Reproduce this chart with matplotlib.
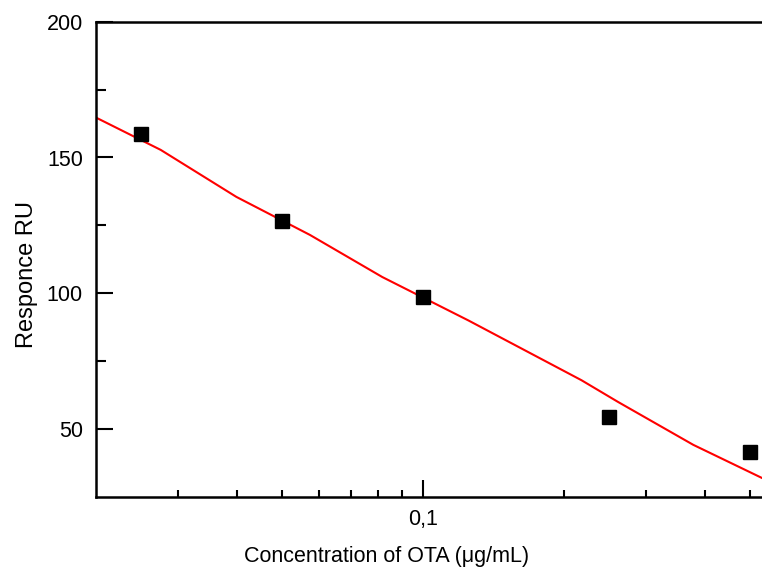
import numpy as np
import matplotlib
matplotlib.use("Agg")
import matplotlib.pyplot as plt
from matplotlib.ticker import FixedLocator, NullFormatter

plt.rcParams['font.family'] = ['Liberation Sans', 'DejaVu Sans']

# measured points
conc = [0.025, 0.05, 0.1, 0.25, 0.5]
resp = [158.7, 126.6, 98.8, 54.5, 41.5]

# red fit curve
fit_x = [0.02, 0.0275, 0.0399, 0.0573, 0.0818, 0.125, 0.218, 0.261, 0.378, 0.53]
fit_y = [164.7, 152.8, 135.5, 121.5, 106.0, 90.0, 68.0, 60.0, 44.2, 32.0]

fig = plt.figure(figsize=(7.62, 5.68), dpi=100)
ax = fig.add_axes([96/762, 71/568, 666/762, 475.3/568])

ax.plot(fit_x, fit_y, color='red', lw=1.5, zorder=2)
ax.plot(conc, resp, 's', color='black', ms=9.5, zorder=3)

ax.set_xscale('log')
ax.set_xlim(0.02, 0.53)
ax.set_ylim(25, 200)

ax.xaxis.set_major_locator(FixedLocator([0.1]))
ax.xaxis.set_minor_locator(FixedLocator([0.03, 0.04, 0.05, 0.06, 0.07, 0.08, 0.09,
                                         0.2, 0.3, 0.4, 0.5]))
ax.xaxis.set_minor_formatter(NullFormatter())
ax.set_xticklabels(['0,1'])
ax.set_yticks([50, 100, 150, 200])
ax.set_yticks([75, 125, 175], minor=True)

ax.tick_params(which='both', direction='in', width=1.5, labelsize=15.5, pad=9)
ax.tick_params(which='major', length=12)
ax.tick_params(which='minor', length=7)
ax.tick_params(axis='x', which='minor', length=5)
ax.tick_params(axis='y', pad=9.5)

for s in ['left', 'bottom', 'top']:
    ax.spines[s].set_linewidth(1.8)
ax.spines['right'].set_visible(False)

ax.set_xlabel('Concentration of OTA (\u03bcg/mL)', fontsize=15.5)
ax.set_ylabel('Responce RU', fontsize=17)
ax.xaxis.set_label_coords(0.436, -0.104)
ax.yaxis.set_label_coords(-0.087, 0.468)

fig.savefig('out.png', dpi=100)
